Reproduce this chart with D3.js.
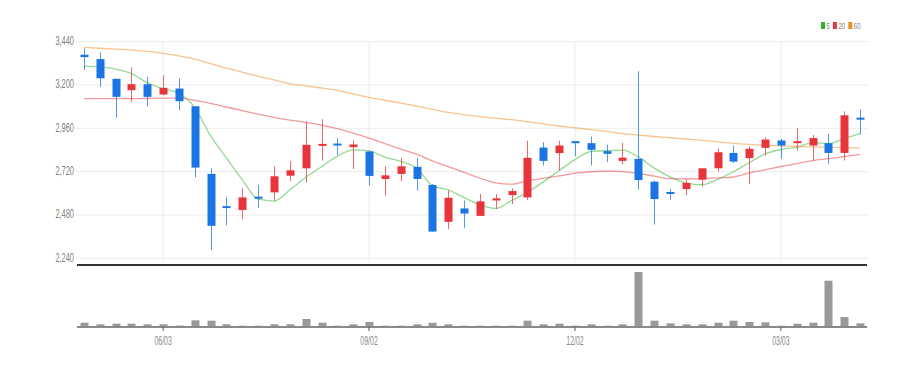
<!DOCTYPE html>
<html>
<head>
<meta charset="utf-8">
<script src="https://cdn.jsdelivr.net/npm/d3@7"></script>
<style>
  body { margin: 0; background: #fff; }
  svg text { font-family: 'Liberation Sans', Arial, sans-serif; }
</style>
</head>
<body>
<div id="chart"></div>
<script>
// weekly candles
const weeks = ['04/29','05/06','05/13','05/20','05/27','06/03','06/10','06/17','06/24','07/01',
  '07/08','07/15','07/22','07/29','08/05','08/12','08/19','08/26','09/02','09/09',
  '09/16','09/23','09/30','10/07','10/14','10/21','10/28','11/04','11/11','11/18',
  '11/25','12/02','12/09','12/16','12/23','12/30','01/06','01/13','01/20','01/27',
  '02/03','02/10','02/17','02/24','03/03','03/10','03/17','03/24','03/31','04/07'];

const opens  = [3364,3340,3231,3168,3201,3144,3177,3079,2705,2527,2505,2579,2603,2695,2736,2862,2873,2853,2829,2677,
  2705,2744,2644,2440,2514,2473,2558,2588,2575,2851,2820,2886,2875,2831,2777,2788,2662,2605,2621,2673,
  2736,2821,2792,2849,2890,2877,2862,2875,2821,3016];
const highs  = [3399,3377,3231,3294,3242,3251,3233,3079,2736,2575,2627,2644,2747,2775,2995,3007,2903,2890,2834,2747,
  2794,2794,2649,2616,2558,2594,2594,2625,2888,2881,2888,2886,2912,2866,2877,3273,2668,2621,2673,2736,
  2844,2862,2858,2908,2899,2958,2921,2927,3051,3062];
const lows   = [3279,3186,3016,3103,3079,3140,3057,2686,2284,2421,2455,2516,2557,2664,2658,2779,2810,2732,2640,2584,
  2664,2612,2386,2399,2405,2473,2510,2538,2560,2751,2723,2803,2751,2770,2758,2618,2425,2562,2588,2636,
  2718,2766,2649,2807,2788,2834,2779,2760,2779,2923];
const closes = [3351,3234,3131,3201,3131,3181,3107,2740,2418,2520,2575,2571,2692,2725,2866,2871,2862,2868,2694,2697,
  2747,2677,2386,2573,2486,2553,2570,2610,2794,2777,2862,2875,2838,2816,2795,2671,2566,2595,2655,2736,
  2825,2773,2844,2895,2862,2886,2903,2821,3029,3005];

const ma5  = [3301,3297,3285,3260,3210,3176,3150,3072,2915,2793,2672,2565,2555,2617,2686,2745,2803,2838,2832,2798,
  2774,2737,2640,2616,2574,2535,2514,2558,2603,2661,2723,2784,2829,2834,2837,2799,2737,2689,2656,2645,
  2675,2717,2767,2815,2840,2852,2878,2873,2900,2929];
const ma20 = [3121,3121,3121,3121,3122,3124,3124,3112,3095,3075,3055,3035,3018,3003,2990,2975,2955,2930,2903,2872,
  2842,2814,2777,2745,2713,2681,2655,2648,2667,2680,2694,2709,2717,2721,2718,2708,2693,2679,2677,2679,
  2683,2688,2711,2727,2746,2762,2779,2789,2801,2813];
const ma60 = [3405,3400,3395,3390,3383,3372,3358,3340,3315,3290,3268,3245,3225,3203,3192,3180,3167,3148,3128,3112,
  3097,3080,3062,3045,3033,3022,3013,3005,2994,2982,2970,2960,2950,2940,2928,2920,2912,2905,2898,2891,
  2882,2874,2868,2863,2860,2857,2854,2852,2850,2849];

// volume (shares)
const volumes = [43000,27000,33000,33000,27000,27000,15000,67000,63000,27000,13000,13000,27000,27000,80000,43000,13000,27000,50000,13000,
  13000,27000,43000,27000,13000,13000,13000,13000,63000,27000,33000,13000,27000,13000,27000,550000,63000,37000,27000,27000,
  43000,63000,50000,47000,13000,33000,43000,463000,100000,37000];

const priceTicks = [2240,2480,2720,2960,3200,3440];
const dateTicks = ['06/03','09/02','12/02','03/03'];
const maNames = ['5','20','60'];
const maSeries = [ma5, ma20, ma60];

const upColor = '#e8353b';
const downColor = '#1b74e4';
const maColors = ['#2cb52c', '#e8353b', '#f08a22'];

const width = 924, height = 368;
const left = 76, right = 868;

// the labels in this chart are drawn narrow
function squeeze(sel, k) {
  sel.each(function () {
    const w = this.getComputedTextLength();
    d3.select(this).attr('textLength', w * k).attr('lengthAdjust', 'spacingAndGlyphs');
  });
}

const svg = d3.select('#chart').append('svg')
  .attr('width', width)
  .attr('height', height);

const x = d3.scaleBand().domain(weeks).range([left, right]).padding(0);
const y = d3.scaleLinear().domain([2240, 3440]).range([258, 41]);
const yVol = d3.scaleLinear().domain([0, 560000]).range([327, 271]);
const cx = i => x(weeks[i]) + x.bandwidth() / 2;

// horizontal grid + labels
const yAxis = svg.append('g')
  .attr('transform', `translate(${left},0)`)
  .call(d3.axisLeft(y).tickValues(priceTicks).tickFormat(d3.format(',')).tickSize(-(right - left)).tickPadding(2));
yAxis.select('.domain').remove();
yAxis.selectAll('.tick line').attr('stroke', '#ececec');
yAxis.selectAll('.tick text').attr('fill', '#808080').style('font-size', '12px').attr('dy', '0.28em');
squeeze(yAxis.selectAll('.tick text'), 0.62);

// vertical grid at date ticks
svg.append('g').selectAll('line')
  .data(dateTicks)
  .enter().append('line')
  .attr('x1', d => x(d) + x.bandwidth() / 2)
  .attr('x2', d => x(d) + x.bandwidth() / 2)
  .attr('y1', 41).attr('y2', 262)
  .attr('stroke', '#ececec');

// moving averages
const line = d3.line()
  .x((d, i) => cx(i))
  .y(d => y(d))
  .curve(d3.curveMonotoneX);

svg.append('g').selectAll('path')
  .data(maSeries)
  .enter().append('path')
  .attr('d', d => line(d))
  .attr('fill', 'none')
  .attr('stroke', (d, i) => maColors[i])
  .attr('stroke-opacity', 0.5)
  .attr('stroke-width', 1.3);

// candles
const bodyW = 8;
const candles = svg.append('g').selectAll('g')
  .data(weeks.map((w, i) => ({ w, i, o: opens[i], h: highs[i], l: lows[i], c: closes[i] })))
  .enter().append('g');

candles.append('line')
  .attr('x1', d => Math.round(cx(d.i)) + 0.5)
  .attr('x2', d => Math.round(cx(d.i)) + 0.5)
  .attr('y1', d => y(d.h))
  .attr('y2', d => y(d.l))
  .attr('stroke', d => d.c >= d.o ? upColor : downColor)
  .attr('stroke-opacity', 0.75)
  .attr('stroke-width', 1);

candles.append('rect')
  .attr('x', d => Math.round(cx(d.i)) + 0.5 - bodyW / 2)
  .attr('y', d => Math.min(y(d.o), y(d.c)))
  .attr('width', bodyW)
  .attr('height', d => Math.max(2, Math.abs(y(d.o) - y(d.c))))
  .attr('fill', d => d.c >= d.o ? upColor : downColor);

// separator under price panel
svg.append('line')
  .attr('x1', left + 1).attr('x2', right - 1)
  .attr('y1', 265).attr('y2', 265)
  .attr('stroke', '#333')
  .attr('stroke-width', 2);

// volume bars
svg.append('g').selectAll('rect')
  .data(volumes)
  .enter().append('rect')
  .attr('x', (d, i) => Math.round(cx(i)) + 0.5 - bodyW / 2)
  .attr('y', d => yVol(d))
  .attr('width', bodyW)
  .attr('height', d => yVol(0) - yVol(d))
  .attr('fill', '#999');

// date axis
const xAxis = svg.append('g')
  .attr('transform', 'translate(0,327)')
  .call(d3.axisBottom(x).tickValues(dateTicks).tickSize(4).tickPadding(5));
xAxis.select('.domain').attr('stroke', '#8a8a8a').attr('stroke-width', 2)
  .attr('d', `M${left + 1},0H${right - 1}`);
xAxis.selectAll('.tick line').attr('stroke', '#555');
xAxis.selectAll('.tick text').attr('fill', '#8a8a8a').style('font-size', '12px');
squeeze(xAxis.selectAll('.tick text'), 0.58);

// legend
const legend = svg.append('g').attr('transform', 'translate(0,28)');
let lx = 821;
maNames.forEach((name, i) => {
  legend.append('rect')
    .attr('x', lx).attr('y', -6)
    .attr('width', 4).attr('height', 7)
    .attr('fill', maColors[i]);
  const t = legend.append('text')
    .attr('x', lx + 5.5).attr('y', 0.5)
    .attr('fill', '#888')
    .style('font-size', '9.5px')
    .text(name);
  const w = t.node().getComputedTextLength() * 0.65;
  t.attr('textLength', w).attr('lengthAdjust', 'spacingAndGlyphs');
  lx += 5.5 + w + 3;
});
</script>
</body>
</html>
